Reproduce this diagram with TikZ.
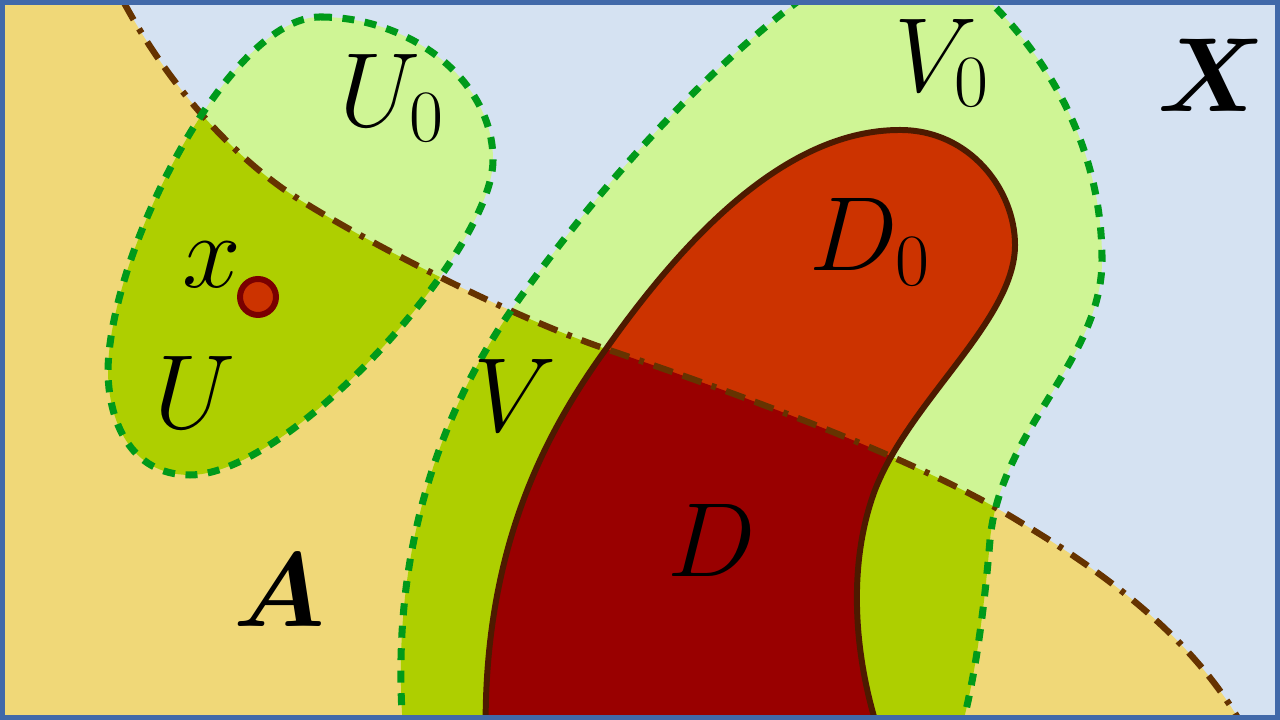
\documentclass[tikz,border=0pt]{standalone}
\usepackage{fix-cm}
\usepackage{amsmath,amssymb}
\usepackage{xcolor}
\usepackage{tikz}
\usetikzlibrary{calc}

\definecolor{spaceblue}{HTML}{D5E2F2}
\definecolor{frameblue}{HTML}{4169A9}
\definecolor{setyellow}{HTML}{F0D878}
\definecolor{openlight}{HTML}{CFF595}
\definecolor{opendark}{HTML}{AECF00}
\definecolor{discorange}{HTML}{CC3300}
\definecolor{discred}{HTML}{990000}
\definecolor{discline}{HTML}{4D1A00}
\definecolor{dashgreen}{HTML}{009A1A}
\definecolor{edgebrown}{HTML}{663300}

% outlines of the sets, in cm (100 px = 1 cm)
\newcommand{\edgeA}{(1.1,7.45) .. controls (1.5,6.6) and (2.2,5.7) .. (3.0,5.2)
  .. controls (3.8,4.7) and (5.2,4.0) .. (6.06,3.71)
  .. controls (7.5,3.22) and (9.2,2.6) .. (10.2,1.98)
  .. controls (11.0,1.5) and (12.0,0.8) .. (12.5,-0.2)}
\newcommand{\regionA}{\edgeA -- (12.6,-0.5) -- (-0.5,-0.5) -- (-0.5,7.6) -- (1.1,7.6) -- cycle}
\newcommand{\openU}{(3.2,7.03) .. controls (4.1,7.03) and (4.93,6.4) .. (4.93,5.6)
  .. controls (4.93,4.7) and (2.9,2.45) .. (1.9,2.45)
  .. controls (1.3,2.45) and (1.08,3.0) .. (1.08,3.5)
  .. controls (1.1,4.7) and (2.3,7.03) .. cycle}
\newcommand{\openV}{(4.05,-0.3) .. controls (3.85,1.6) and (4.4,3.1) .. (5.17,4.18)
  .. controls (5.9,5.2) and (7.0,6.5) .. (8.2,7.35) -- (9.6,7.45)
  .. controls (10.4,6.8) and (11.02,5.8) .. (11.02,4.6)
  .. controls (11.02,3.6) and (10.0,2.9) .. (9.9,1.8)
  .. controls (9.85,1.2) and (9.75,0.3) .. (9.55,-0.3) -- cycle}
\newcommand{\discD}{(4.86,-0.3) .. controls (4.8,1.6) and (5.4,2.8) .. (6.06,3.71)
  .. controls (6.9,4.9) and (7.9,5.9) .. (9.0,5.9)
  .. controls (9.7,5.9) and (10.15,5.3) .. (10.15,4.75)
  .. controls (10.15,4.0) and (9.1,3.2) .. (8.75,2.3)
  .. controls (8.45,1.5) and (8.55,0.5) .. (8.85,-0.3) -- cycle}

\begin{document}
\begin{tikzpicture}[
  setlabel/.style={inner sep=0pt, font=\fontsize{30}{36}\selectfont},
  openedge/.style={draw=dashgreen, line width=2pt, dash pattern=on 3.4pt off 3pt},
  aedge/.style={draw=edgebrown, line width=1.8pt, dash pattern=on 5.7pt off 3pt on 5.7pt off 3pt on 1.4pt off 3pt},
  discedge/.style={draw=discline, line width=1.7pt},
  pointmark/.style={circle, fill=discorange, draw=discred!80!black, line width=1.7pt, minimum size=3.6mm, inner sep=0pt}
]
\useasboundingbox (0,0) rectangle (12.8,7.2);
\clip (0,0) rectangle (12.8,7.2);
\fill[spaceblue] (0,0) rectangle (12.8,7.2);

% the set A
\fill[setyellow] \regionA;

% open sets, light outside A and dark inside A
\fill[openlight] \openU;
\fill[openlight] \openV;
\begin{scope}
  \clip \regionA;
  \fill[opendark] \openU;
  \fill[opendark] \openV;
\end{scope}

% the disc
\fill[discorange] \discD;
\begin{scope}
  \clip \regionA;
  \fill[discred] \discD;
\end{scope}

% outlines
\path[aedge] \edgeA;
\path[openedge] \openU;
\path[openedge] \openV;
\path[discedge] \discD;

\node[pointmark] (pt) at (2.58,4.23) {};

\node[setlabel] (lblx) at (2.12,4.55) {$x$};
\node[setlabel] (lblU0) at (3.92,6.22) {$U_0$};
\node[setlabel] (lblU) at (1.95,3.28) {$U$};
\node[setlabel] (lblV0) at (9.42,6.57) {$V_0$};
\node[setlabel] (lblV) at (5.15,3.25) {$V$};
\node[setlabel] (lblD0) at (8.70,4.78) {$D_0$};
\node[setlabel] (lblD) at (7.12,1.80) {$D$};
\node[setlabel] (lblA) at (2.79,1.30) {$\boldsymbol{A}$};
\node[setlabel] (lblX) at (12.12,6.45) {$\boldsymbol{X}$};

% frame
\draw[frameblue, line width=1.5pt] (0.025,0.025) rectangle (12.775,7.175);
\end{tikzpicture}
\end{document}
